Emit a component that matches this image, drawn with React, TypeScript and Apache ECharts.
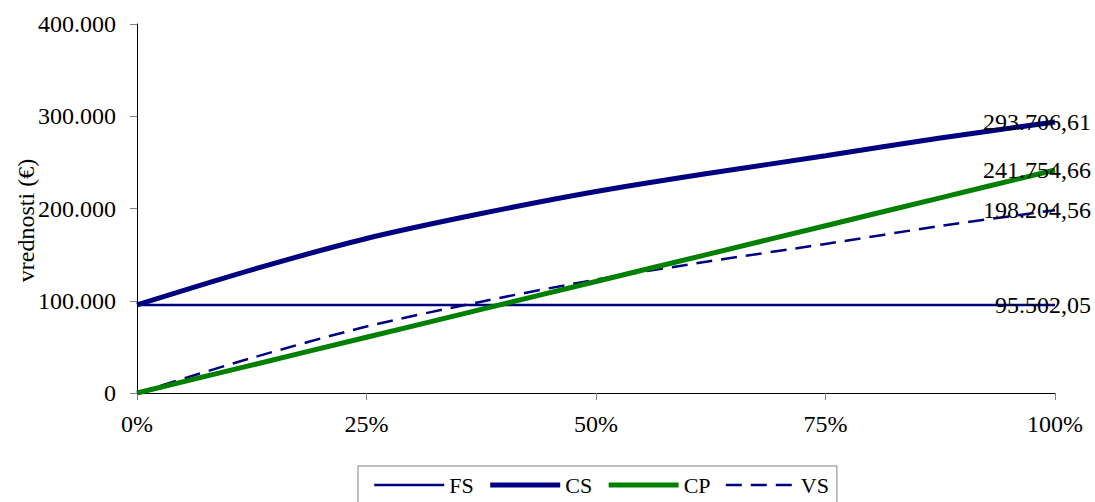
import React, { useEffect, useRef } from "react";
import * as echarts from "echarts";

const xPercent = [0, 12.5, 25, 37.5, 50, 62.5, 75, 87.5, 100];
const fsValues = [95502.05, 95502.05, 95502.05, 95502.05, 95502.05, 95502.05, 95502.05, 95502.05, 95502.05];
const csValues = [95502.05, 133500, 167500, 194500, 218400, 238500, 257100, 276500, 293706.61];
const cpValues = [0, 30219, 60439, 90658, 120877, 151097, 181316, 211535, 241754.66];
const vsValues = [0, 38000, 72000, 99000, 122900, 143000, 161600, 181000, 198204.56];
const endLabels = ["95.502,05", "293.706,61", "241.754,66", "198.204,56"];
const seriesNames = ["FS", "CS", "CP", "VS"];
const yTicks = [0, 100000, 200000, 300000, 400000];

const FONT = "Liberation Serif";
const FS_SIZE = 24;

function fmtThousands(v: number): string {
  return String(Math.round(v)).replace(/\B(?=(\d{3})+(?!\d))/g, ".");
}

export default function App() {
  const ref = useRef<HTMLDivElement>(null);
  useEffect(() => {
    if (!ref.current) return;
    const chart = echarts.init(ref.current, null, { renderer: "svg" });
    const makeData = (vals: number[], label: string) =>
      vals.map((v, i) => {
        if (i === vals.length - 1) {
          return {
            value: [xPercent[i], v],
            label: {
              show: true,
              position: "left",
              distance: 0,
              offset: [36, 0],
              formatter: label,
              color: "#000",
              fontFamily: FONT,
              fontSize: FS_SIZE,
            },
          };
        }
        return { value: [xPercent[i], v] };
      });
    const styles = [
      { color: "#000080", width: 2.5, type: "solid" as any },
      { color: "#000080", width: 5, type: "solid" as any },
      { color: "#008000", width: 5, type: "solid" as any },
      { color: "#000080", width: 2.5, type: [16, 9] as any },
    ];
    const allVals = [fsValues, csValues, cpValues, vsValues];
    chart.setOption({
      animation: false,
      backgroundColor: "#fff",
      grid: { left: 137, right: 40, top: 24, bottom: 109, containLabel: false, outerBoundsMode: "none" },
      xAxis: {
        type: "value",
        min: 0,
        max: 100,
        interval: 25,
        axisLine: { lineStyle: { color: "#000", width: 1 } },
        axisTick: { show: true, length: 7, lineStyle: { color: "#808080" } },
        splitLine: { show: false },
        axisLabel: {
          formatter: "{value}%",
          color: "#000",
          fontFamily: FONT,
          fontSize: FS_SIZE,
          margin: 19,
        },
      },
      yAxis: {
        type: "value",
        min: yTicks[0],
        max: yTicks[yTicks.length - 1],
        interval: 100000,
        name: "vrednosti (€)",
        nameLocation: "middle",
        nameGap: 99,
        nameMoveOverlap: false,
        nameTextStyle: { color: "#000", fontFamily: FONT, fontSize: FS_SIZE, padding: [0, 24, 0, 0] },
        axisLine: { show: true, lineStyle: { color: "#000", width: 1 } },
        axisTick: { show: true, length: 7, lineStyle: { color: "#808080" } },
        splitLine: { show: false },
        axisLabel: {
          formatter: (v: number) => fmtThousands(v),
          color: "#000",
          fontFamily: FONT,
          fontSize: FS_SIZE,
          margin: 21,
        },
      },
      legend: {
        left: 358,
        top: 466,
        orient: "horizontal",
        itemWidth: 70,
        itemHeight: 14,
        itemGap: 14,
        padding: [8, 8, 8, 15],
        borderColor: "#808080",
        borderWidth: 1,
        borderRadius: 0,
        itemStyle: { opacity: 0 },
        textStyle: { color: "#000", fontFamily: FONT, fontSize: 22 },
        data: seriesNames.map((n, k) => ({
          name: n,
          lineStyle: { width: styles[k].width, color: styles[k].color, type: styles[k].type },
        })),
      },
      series: seriesNames.map((name, k) => ({
        name,
        type: "line",
        smooth: 0.3,
        symbol: "circle",
        symbolSize: 0,
        showSymbol: true,
        itemStyle: { color: "rgba(0,0,0,0)" },
        lineStyle: styles[k],
        z: k === 1 || k === 2 ? 3 : 2,
        data: makeData(allVals[k], endLabels[k]),
      })),
    });
    return () => chart.dispose();
  }, []);
  return <div ref={ref} style={{ width: 1095, height: 502, position: "absolute", left: 0, top: 0 }} />;
}
